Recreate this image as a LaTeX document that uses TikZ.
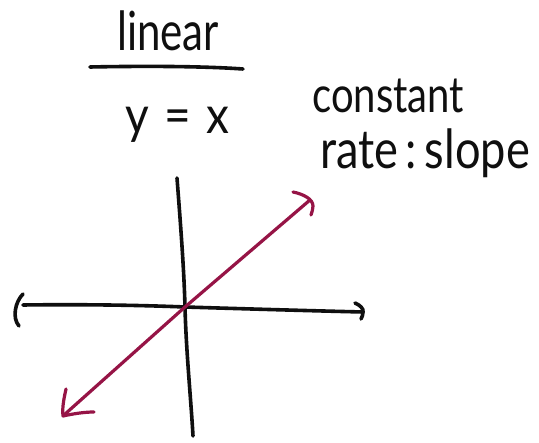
\documentclass[tikz,border=0pt]{standalone}
\usepackage{fontspec}
\setmainfont{Lato}
\definecolor{ink}{RGB}{15,15,15}
\definecolor{pen}{RGB}{150,20,70}
\begin{document}
\begin{tikzpicture}[x=1pt,y=-1pt,
  stroke/.style={draw=ink,line width=3.6pt,line cap=round,line join=round},
  pinkstroke/.style={draw=pen,line width=3.2pt,line cap=round,line join=round},
  hand/.style={inner sep=0pt,text=ink,font=\fontsize{40}{48}\selectfont}]
\useasboundingbox[fill=white] (0,0) rectangle (539,443);
% texts
\node[hand,anchor=base] (title) at (168,51) {\scalebox{1.05}[1.35]{linear}};
\node[hand,anchor=base] (eq) at (177,134) {\scalebox{1.15}[1.3]{y\,\,=\,\,x}};
\node[hand,anchor=base west] (c1) at (312,113) {\scalebox{1.0}[1.25]{constant}};
\node[hand,anchor=base west] (c2) at (320,169) {\scalebox{1.13}[1.35]{rate\,:\,slope}};
% underline
\coordinate (ul1) at (90,67);
\coordinate (ul2) at (243,69);
\draw[stroke] (ul1) .. controls (140,66) and (200,66) .. (ul2);
% axes
\coordinate (vt) at (177,178);
\coordinate (o) at (185,307);
\coordinate (vb) at (193,436);
\draw[stroke] (vt) .. controls (181,230) and (184,270) .. (o) .. controls (186,350) and (191,400) .. (vb);
\coordinate (hl) at (23,305);
\coordinate (hr) at (363,312);
\draw[stroke] (hl) .. controls (100,304) and (160,306) .. (o) .. controls (250,309) and (320,311) .. (hr);
% left bracket end
\draw[stroke] (23,294) .. controls (15,302) and (12,318) .. (19,326);
% right hook end
\draw[stroke] (355,303) .. controls (360,305) and (364,309) .. (hr) .. controls (363,315) and (362,317) .. (361,319);
% magenta line
\coordinate (pa) at (64,415);
\coordinate (pb) at (310,200);
\draw[pinkstroke] (pa) -- (o) -- (pb);
\draw[pinkstroke] (293,192) .. controls (303,194) and (313,199) .. (313,206) .. controls (313,209) and (312,212) .. (311,215);
\draw[pinkstroke] (66,389) .. controls (64,398) and (62,408) .. (63,416) .. controls (72,414) and (84,412) .. (94,412);
\end{tikzpicture}
\end{document}
